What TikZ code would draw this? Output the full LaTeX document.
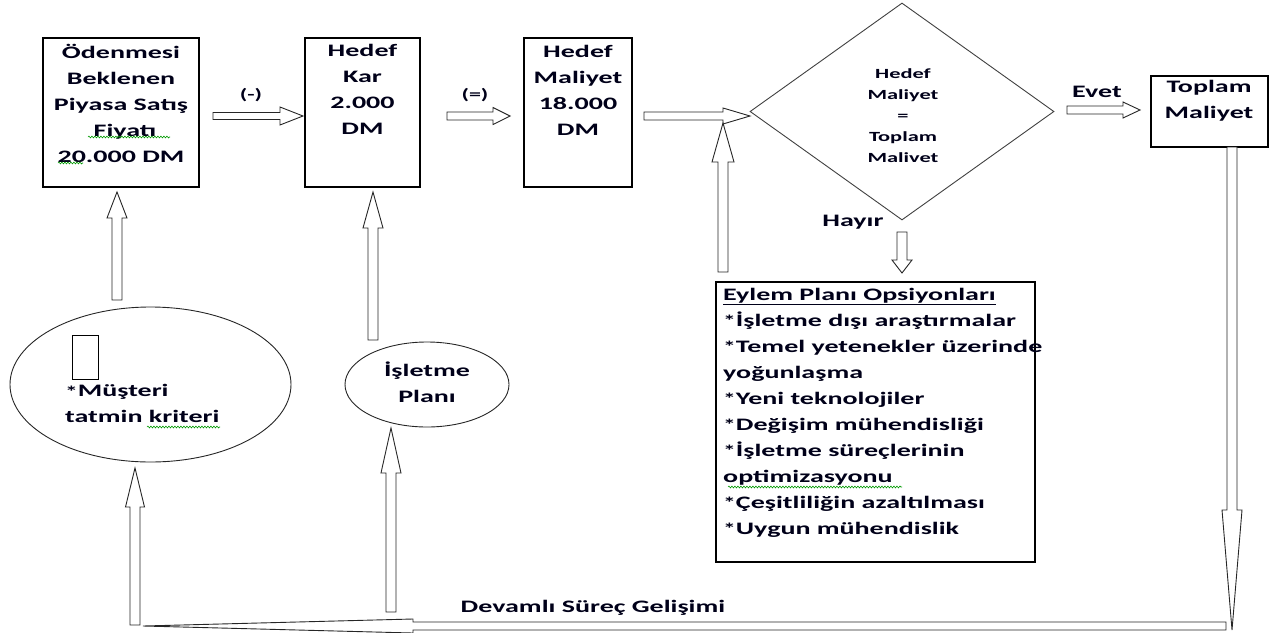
\documentclass[tikz,border=0pt]{standalone}
\usepackage{fontspec}
\setmainfont{Carlito}[FakeStretch=1.6]
\usetikzlibrary{calc,shapes.geometric,decorations.pathmorphing}

% block arrow: start, tip, shaft half width, head half width, head length
\newcommand\blockarrow[5]{%
  \path ($(#2)!#5!(#1)$) coordinate (ba-h);
  \draw[barrow] ($(#1)!#3!90:(#2)$) -- ($(ba-h)!#3!90:(#2)$) -- ($(ba-h)!#4!90:(#2)$)
     -- (#2) -- ($(ba-h)!#4!-90:(#2)$) -- ($(ba-h)!#3!-90:(#2)$) -- ($(#1)!#3!-90:(#2)$) -- cycle;
}
\newcommand\stern{{\fontsize{16}{16}\selectfont\raisebox{-0.5pt}{*}}}

\begin{document}
\begin{tikzpicture}[x=1pt,y=-1pt,
  box/.style={draw=black, line width=1.2pt, fill=white, inner sep=0pt},
  barrow/.style={draw=black!85, line width=0.9pt, fill=white, line join=miter},
  txt/.style={font=\fontsize{17.5}{26}\selectfont\bfseries, align=center, inner sep=0pt, text=black!90!blue},
  dtxt/.style={font=\fontsize{14}{21}\selectfont\bfseries, align=center, inner sep=0pt, text=black!90!blue},
  spell/.style={draw=green!60!black, line width=0.6pt, decorate, decoration={snake, amplitude=0.9pt, segment length=3pt}}]
\useasboundingbox (0,0) rectangle (1274,632);

% boxes
\node[box, minimum width=156pt, minimum height=149pt] (b1) at (121,112.5) {};
\node[box, minimum width=115pt, minimum height=149pt] (b2) at (362.5,112.5) {};
\node[box, minimum width=108pt, minimum height=149pt] (b3) at (578,112.5) {};
\node[box, minimum width=117pt, minimum height=71pt] (b4) at (1209.5,111.5) {};
\node[box, minimum width=319pt, minimum height=280pt] (eyl) at (875.5,422) {};
\node[draw=black!75, line width=0.9pt, diamond, minimum width=304pt, minimum height=217pt, inner sep=0pt] (dia) at (902,111.5) {};
\node[draw=black!85, line width=0.9pt, ellipse, minimum width=281pt, minimum height=155pt, inner sep=0pt] (e1) at (150.5,384.5) {};
\node[draw=black!85, line width=0.9pt, ellipse, minimum width=164pt, minimum height=85pt, inner sep=0pt] (e2) at (427,384.5) {};
\node[draw=black, line width=1pt, minimum width=26pt, minimum height=44pt, inner sep=0pt] (sq) at (85,357) {};

% texts
\node[txt] (t1) at (121,103) {Ödenmesi\\Beklenen\\Piyasa Satış\\\hspace*{8pt}Fiyatı\\20.000 DM};
\node[txt] (t2) at (362.5,89.5) {Hedef\\Kar\\2.000\\DM};
\node[txt] (t3) at (578,90) {Hedef\\Maliyet\\18.000\\DM};
\node[txt] (t4) at (1209,101) {Toplam\\Maliyet};
\node[dtxt] (td) at (903,115.5) {Hedef\\Maliyet\\=\\Toplam\\Malivet};
\node[txt, align=left, anchor=west] (te) at (723,412.5) {\underline{Eylem Planı Opsiyonları}\\
\stern İşletme dışı araştırmalar\\
\stern Temel yetenekler üzerinde\\
yoğunlaşma\\
\stern Yeni teknolojiler\\
\stern Değişim mühendisliği\\
\stern İşletme süreçlerinin\\
optimizasyonu\\
\stern Çeşitliliğin azaltılması\\
\stern Uygun mühendislik};
\node[txt, align=left, anchor=west] (te1) at (65,403.5) {\stern Müşteri\\tatmin kriteri};
\node[txt] (te2) at (427,382) {İşletme\\Planı};
\node[txt, font=\fontsize{15}{15}\selectfont\bfseries] (lm) at (251,95) {(-)};
\node[txt, font=\fontsize{15}{15}\selectfont\bfseries] (le) at (475,95) {(=)};
\node[txt] (lev) at (1097,92) {Evet};
\node[txt] (lh) at (853,222) {Hayır};
\node[txt] (ld) at (593,608) {Devamlı Süreç Gelişimi};

% spell-check squiggles
\draw[spell] (88,137) -- (170,137);
\draw[spell] (58,163) -- (83,163);
\draw[spell] (147,427) -- (220,427);
\draw[spell] (728,487) -- (902,487);

% arrow end points
\coordinate (a1s) at (213,116); \coordinate (a1t) at (303,116);
\coordinate (a2s) at (447,116); \coordinate (a2t) at (510,116);
\coordinate (a3s) at (644,116); \coordinate (a3t) at (750,116);
\coordinate (a4s) at (723,272); \coordinate (a4t) at (723,123);
\coordinate (a5s) at (1067,110); \coordinate (a5t) at (1140,110);
\coordinate (a6s) at (902,232); \coordinate (a6t) at (902,273);
\coordinate (a7s) at (117,300); \coordinate (a7t) at (117,192);
\coordinate (a8s) at (373,340); \coordinate (a8t) at (373,192);
\coordinate (a9s) at (135,625); \coordinate (a9t) at (135,468);
\coordinate (a10s) at (391,612); \coordinate (a10t) at (391,428);
\coordinate (a11s) at (1232,147); \coordinate (a11t) at (1232,630);
\coordinate (a12s) at (1226,626); \coordinate (a12t) at (143,626);

\blockarrow{a1s}{a1t}{3.5pt}{9pt}{23pt}
\blockarrow{a2s}{a2t}{4pt}{8.5pt}{17pt}
\blockarrow{a3s}{a3t}{4pt}{8pt}{27pt}
\blockarrow{a4s}{a4t}{5pt}{11pt}{39pt}
\blockarrow{a5s}{a5t}{4pt}{8pt}{17pt}
\blockarrow{a6s}{a6t}{5pt}{10pt}{13pt}
\blockarrow{a7s}{a7t}{5pt}{10pt}{26pt}
\blockarrow{a8s}{a8t}{5pt}{10pt}{36pt}
\blockarrow{a12s}{a12t}{4pt}{7pt}{270pt}
\blockarrow{a9s}{a9t}{5pt}{9.5pt}{39pt}
\blockarrow{a10s}{a10t}{5pt}{10pt}{45pt}
\blockarrow{a11s}{a11t}{5pt}{10pt}{120pt}
\end{tikzpicture}
\end{document}
